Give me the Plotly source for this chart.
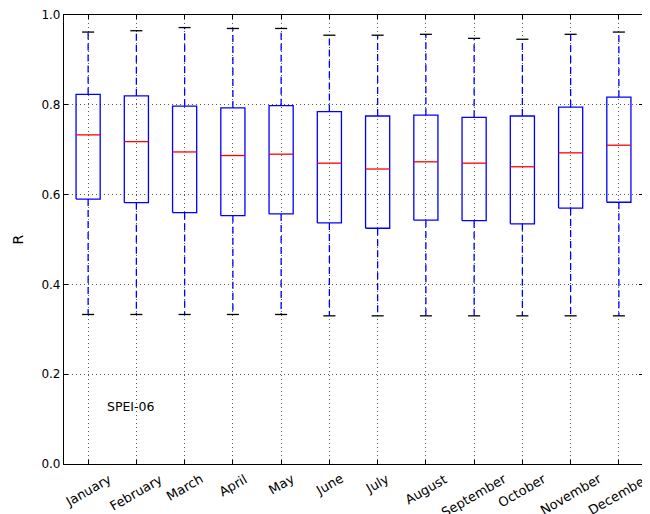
import plotly.graph_objects as go

months = ["January", "February", "March", "April", "May", "June", "July",
          "August", "September", "October", "November", "December"]
upper = [0.962, 0.965, 0.972, 0.970, 0.970, 0.955, 0.955, 0.957, 0.948, 0.946, 0.957, 0.962]
q3 = [0.823, 0.820, 0.797, 0.793, 0.798, 0.785, 0.775, 0.777, 0.772, 0.775, 0.795, 0.817]
median = [0.733, 0.718, 0.695, 0.687, 0.690, 0.670, 0.657, 0.673, 0.670, 0.662, 0.693, 0.710]
q1 = [0.590, 0.582, 0.560, 0.553, 0.557, 0.537, 0.525, 0.543, 0.542, 0.535, 0.570, 0.583]
lower = [0.333, 0.333, 0.333, 0.333, 0.333, 0.330, 0.330, 0.330, 0.330, 0.330, 0.330, 0.330]
yticks = [0.0, 0.2, 0.4, 0.6, 0.8, 1.0]

pos = list(range(1, len(months) + 1))
hw = 0.25   # half box width
cw = 0.125  # half cap width

bx, by, mx, my, wx, wy, cx, cy = [], [], [], [], [], [], [], []
for p, lo, a, m, b, hi in zip(pos, lower, q1, median, q3, upper):
    bx += [p - hw, p + hw, p + hw, p - hw, p - hw, None]
    by += [a, a, b, b, a, None]
    mx += [p - hw, p + hw, None]
    my += [m, m, None]
    wx += [p, p, None, p, p, None]
    wy += [b, hi, None, a, lo, None]
    cx += [p - cw, p + cw, None, p - cw, p + cw, None]
    cy += [hi, hi, None, lo, lo, None]

fig = go.Figure()
fig.add_trace(go.Scatter(x=wx, y=wy, mode="lines", line=dict(color="blue", width=1.3, dash="7px,4px"), hoverinfo="skip"))
fig.add_trace(go.Scatter(x=cx, y=cy, mode="lines", line=dict(color="black", width=1.3), hoverinfo="skip"))
fig.add_trace(go.Scatter(x=bx, y=by, mode="lines", line=dict(color="blue", width=1.3), hoverinfo="skip"))
fig.add_trace(go.Scatter(x=mx, y=my, mode="lines", line=dict(color="red", width=1.3), hoverinfo="skip"))

annotations = [dict(x=1.35, y=0.127, xref="x", yref="y", text="SPEI-06", showarrow=False,
                    xanchor="left", yanchor="middle", font=dict(size=12.5, color="black"))]
for p, name in zip(pos, months):
    annotations.append(dict(x=p, y=-0.01, xref="x", yref="paper", text=name, showarrow=False,
                            textangle=-30, xanchor="center", yanchor="top",
                            font=dict(size=13, color="black")))

fig.update_layout(
    width=642, height=506,
    margin=dict(l=56, r=7, t=7, b=50),
    paper_bgcolor="white", plot_bgcolor="white",
    showlegend=False,
    font=dict(family="DejaVu Sans", size=12, color="black"),
    annotations=annotations,
    xaxis=dict(range=[0.5, 12.5], tickvals=pos, ticktext=[""] * len(pos),
               showgrid=True, gridcolor="rgba(0,0,0,0.65)", griddash="1px,3px", gridwidth=1,
               showline=True, linecolor="black", linewidth=1.2, mirror="allticks",
               ticks="inside", ticklen=4, tickcolor="black", zeroline=False, automargin=False),
    yaxis=dict(range=[0, 1], tickvals=yticks, ticktext=[f"{v:.1f}" for v in yticks],
               showgrid=True, gridcolor="rgba(0,0,0,0.65)", griddash="1px,3px", gridwidth=1,
               showline=True, linecolor="black", linewidth=1.2, mirror="allticks",
               ticks="inside", ticklen=4, tickcolor="black", zeroline=False, automargin=False,
               title=dict(text="R", standoff=14), tickfont=dict(size=12)),
)

fig.write_html("out.html")
